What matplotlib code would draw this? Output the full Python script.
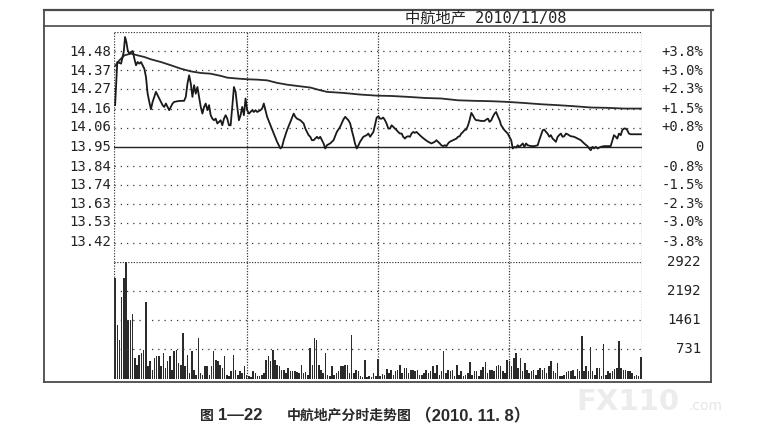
import matplotlib
matplotlib.use("Agg")
import matplotlib.pyplot as plt
import numpy as np
from matplotlib.lines import Line2D
from matplotlib.transforms import blended_transform_factory

# ---------------- data ----------------
title = "中航地产 2010/11/08"
caption_parts = ["图", "1—22", "中航地产分时走势图", "（2010. 11. 8）"]
prev_close = 13.95
price_ticks = [14.48, 14.37, 14.27, 14.16, 14.06, 13.95, 13.84, 13.74, 13.63, 13.53, 13.42]
pct_labels = ["+3.8%", "+3.0%", "+2.3%", "+1.5%", "+0.8%", "0",
              "-0.8%", "-1.5%", "-2.3%", "-3.0%", "-3.8%"]
vol_ticks = [731, 1461, 2192, 2922]

price_min = [0, 1, 2.73, 3.94, 4.55, 5.15, 5.76, 6.52, 7.27, 8.03, 8.79, 9.55, 10.3, 11.06, 11.82,
             12.58, 13.33, 14.09, 14.85, 15.61, 16.36, 17.12, 17.88, 18.64, 19.39, 20.15, 20.91,
             21.67, 22.42, 23.18, 23.94, 24.7, 25.45, 26.21, 26.97, 28.48, 30.0, 31.5, 32.27, 33.03,
             33.79, 34.55, 35.3, 36.06, 36.82, 37.58, 38.33, 39.09, 39.85, 40.61, 41.36, 42.12,
             42.88, 43.64, 44.39, 45.15, 45.91, 46.67, 47.42, 48.18, 48.94, 49.7, 50.45, 51.21,
             51.97, 52.73, 53.48, 54.24, 55.0, 55.76, 56.52, 57.27, 58.03, 58.79, 59.55, 60.3,
             61.06, 61.82, 62.58, 63.33, 64.09, 64.85, 66.36, 67.12, 67.88, 68.64, 69.39, 70.91,
             72.42, 73.94, 75.45, 76.21, 76.97, 78.48, 80.0, 81.52, 82.27, 83.03, 84.55, 85.3,
             86.06, 86.82, 87.58, 88.33, 89.09, 89.85, 90.61, 91.36, 92.12, 92.88, 93.64, 94.39,
             95.15, 95.91, 96.67, 98.18, 99.7, 101.2, 102.7, 104.2, 105.0, 105.8, 106.5, 107.3,
             108.0, 108.8, 109.5, 110.3, 111.1, 111.8, 113.3, 114.8, 115.6, 116.4, 117.9,
             119.4, 120.2, 120.9, 121.7, 122.4, 123.2, 123.9, 124.7, 125.5, 126.2, 127.0, 127.7,
             128.5, 129.2, 130.0, 130.8, 131.5, 132.3, 133.0, 133.8, 134.6, 135.3, 136.1, 136.8,
             137.6, 138.3, 139.1, 139.9, 141.4, 142.9, 144.4, 145.9, 146.7, 147.4, 148.2, 148.9,
             149.7, 150.5, 151.2, 152.0, 152.7, 154.2, 155.8, 156.5, 157.3, 158.0, 158.8, 159.5,
             160.3, 161.1, 161.8, 162.6, 163.3, 164.1, 164.8, 165.6, 167.1, 168.6, 169.4, 170.2,
             170.9, 171.7, 172.4, 173.2, 173.9, 174.7, 175.5, 176.2, 177.7, 179.2, 180.0, 180.8,
             181.5, 182.3, 183.0, 183.8, 184.5, 185.3, 186.1, 186.8, 187.6, 188.3, 189.9, 191.4,
             192.9, 193.6, 194.4, 195.2, 195.9, 196.7, 197.4, 198.2, 198.9, 199.7, 200.5, 201.2,
             202.0, 202.7, 203.5, 204.2, 205.0, 205.8, 206.5, 208.0, 209.5, 211.1, 212.6, 214.1,
             215.6, 216.4, 217.1, 217.9, 218.6, 219.4, 220.2, 221.7, 223.2, 226.2, 227.0, 227.7,
             228.5, 229.2, 230.0, 230.8, 231.5, 232.3, 233.0, 233.8, 234.5, 235.3, 238.3, 240.0]
price = [14.182, 14.422, 14.413, 14.478, 14.561, 14.533, 14.487, 14.469, 14.478, 14.483, 14.441,
         14.404, 14.422, 14.413, 14.422, 14.404, 14.385, 14.339, 14.246, 14.200, 14.159, 14.200,
         14.228, 14.256, 14.237, 14.219, 14.200, 14.182, 14.172, 14.191, 14.172, 14.154, 14.172,
         14.191, 14.200, 14.204, 14.206, 14.206, 14.228, 14.302, 14.348, 14.302, 14.228, 14.293,
         14.246, 14.283, 14.228, 14.172, 14.135, 14.172, 14.191, 14.154, 14.182, 14.126, 14.107,
         14.098, 14.107, 14.080, 14.089, 14.098, 14.070, 14.107, 14.126, 14.107, 14.070, 14.070,
         14.172, 14.283, 14.256, 14.172, 14.098, 14.126, 14.172, 14.126, 14.219, 14.154, 14.135,
         14.144, 14.154, 14.144, 14.154, 14.144, 14.154, 14.163, 14.191, 14.154, 14.117, 14.070,
         14.024, 13.978, 13.941, 13.950, 13.987, 14.043, 14.089, 14.135, 14.117, 14.107, 14.098,
         14.089, 14.080, 14.052, 14.033, 14.015, 14.006, 13.987, 13.987, 13.996, 14.006, 13.996,
         14.006, 13.987, 13.969, 13.941, 13.959, 13.969, 13.987, 14.033, 14.061, 14.102, 14.117,
         14.107, 14.098, 14.080, 14.043, 14.006, 13.969, 13.941, 13.959, 13.978, 14.006, 14.015,
         14.024, 14.006, 14.033,
         14.113, 14.120, 14.107, 14.107, 14.113, 14.098, 14.080, 14.052, 14.052, 14.070, 14.061,
         14.052, 14.043, 14.033, 14.024, 14.024, 14.006, 13.996, 14.006, 14.009, 14.006, 14.024,
         14.033, 14.028, 14.033, 14.024, 14.015, 14.006, 13.991, 13.978, 13.969, 13.978, 13.987,
         13.978, 13.969, 13.959, 13.954, 13.959, 13.954, 13.969, 13.978, 13.987, 13.996, 14.006,
         14.009, 14.024, 14.033, 14.043, 14.046, 14.070, 14.098, 14.139, 14.126, 14.107, 14.098,
         14.098, 14.094, 14.094, 14.102, 14.107, 14.089, 14.098, 14.117, 14.135, 14.144, 14.120,
         14.098, 14.070, 14.043, 14.024, 14.006, 13.987, 13.941, 13.950, 13.946, 13.959, 13.950,
         13.959, 13.969, 13.950, 13.969, 13.959, 13.954, 13.954, 13.959, 13.987, 14.015, 14.043,
         14.046, 14.033, 14.024, 14.006, 14.015, 13.996, 13.987, 13.978, 14.006, 14.015, 14.024,
         14.006, 14.009, 14.024, 14.020, 14.009, 14.006, 13.996, 13.987, 13.969, 13.954, 13.941,
         13.931, 13.950, 13.941, 13.950, 13.941, 13.950, 13.954, 13.954, 13.987, 14.015, 14.006,
         13.996, 14.024, 14.015, 14.043, 14.052, 14.052, 14.043, 14.024, 14.020, 14.020, 14.020]

avg_min = [0, 2, 4.24, 7.27, 10.3, 13.33, 16.36, 20.9, 25.45, 30.0, 34.55, 39.1, 43.6, 48.2, 51.2,
           55.8, 60.3, 64.8, 69.4, 73.9, 78.5, 83.0, 89.1, 93.6, 96.7, 104.2, 111.8, 119.4,
           126.2, 133.8, 141.4, 148.9, 156.5, 164.1, 171.7, 179.2, 186.8, 194.4, 202.0, 209.5,
           217.1, 224.7, 232.3, 240.0]
avg_price = [14.400, 14.432, 14.459, 14.469, 14.459, 14.450, 14.437, 14.422, 14.404, 14.385,
             14.370, 14.361, 14.357, 14.345, 14.335, 14.330, 14.326, 14.324, 14.320, 14.306,
             14.296, 14.289, 14.280, 14.265, 14.256, 14.250, 14.241, 14.235, 14.233, 14.228,
             14.222, 14.219, 14.209, 14.206, 14.204, 14.200, 14.194, 14.187, 14.182, 14.176,
             14.169, 14.167, 14.163, 14.163]

volume = [2507, 1345, 971, 2050, 2523, 2922, 1469, 1469, 1610, 515,
          349, 598, 639, 722, 1926, 307, 432, 224, 515, 556,
          556, 307, 639, 266, 432, 556, 224, 681, 722, 390,
          349, 1137, 307, 598, 141, 681, 224, 100,
          1013, 141, 100, 307, 307, 100, 307, 681, 473, 432,
          349, 266, 556, 100, 58, 183, 598, 224, 100,
          183, 141, 307, 83, 58, 33, 183, 141, 58,
          58, 100, 141, 473, 556, 432, 722, 473, 349, 307,
          224, 224, 141, 266, 183, 183, 183, 166, 141,
          349, 141, 166, 100, 764, 349, 1013, 955, 349,
          224, 141, 639, 100, 58, 307, 100, 141,
          183, 307, 307, 349, 349, 141, 1096, 141, 224, 183,
          58, 33, 473, 33, 58, 33, 141, 58,
          498, 58, 116, 83, 249, 141, 224, 100, 199, 224,
          349, 141, 266, 266, 141, 224, 224, 199, 224,
          83, 100, 141, 224, 141, 183, 307, 141, 332,
          100, 183, 681, 141, 224, 183, 224, 58, 349, 100,
          183, 58, 83, 141, 415, 100, 183, 183, 58,
          224, 282, 415, 141, 224, 224, 199, 307, 349,
          307, 183, 141, 473, 432, 307, 515, 639, 266, 515,
          183, 390, 224, 141, 183, 224, 100, 224, 266,
          224, 266, 141, 307, 432, 183, 141, 390, 58,
          58, 83, 166, 183, 183, 224, 58, 249, 183, 1071,
          183, 307, 199, 780, 183, 100, 266, 266, 58, 863,
          100, 183, 141, 183, 249, 266, 930, 266, 224, 224,
          199, 183, 141, 58, 83, 58, 531]

# ---------------- layout ----------------
W, H = 759, 446
fig = plt.figure(figsize=(W / 100, H / 100), dpi=100)
fig.patch.set_facecolor("white")

def fx(x):
    return x / W

def fy(y):
    return 1 - y / H

L, R = 114, 642
PT, PB = 32, 261.7
VB = 378.5

ax = fig.add_axes([fx(L), fy(PB), (R - L) / W, (PB - PT) / H])
axv = fig.add_axes([fx(L), fy(VB), (R - L) / W, (VB - PB) / H])

step = 0.1065
pmin, pmax = prev_close - 6 * step, prev_close + 6 * step
ax.set_xlim(-0.5, 240.5)
ax.set_ylim(pmin, pmax)
axv.set_xlim(-0.5, 240.5)
axv.set_ylim(0, 2922)

for a in (ax, axv):
    a.set_facecolor("none")
    for s in a.spines.values():
        s.set_visible(False)
    a.set_xticks([])
    a.set_yticks([])

gc = "#3a3a3a"
dot = (0, (1, 4))
dense = (0, (1, 1.2))

# price grid
for k in range(1, 6):
    for lvl in (prev_close + k * step, prev_close - k * step):
        ax.axhline(lvl, color=gc, lw=0.9, linestyle=dot)
ax.axhline(prev_close, color="#222222", lw=1.0)
ax.axhline(pmax, color=gc, lw=0.9, linestyle=dense)
for m in (60, 120, 180):
    ax.axvline(m, color=gc, lw=0.9, linestyle=dense)
    axv.axvline(m, color=gc, lw=0.9, linestyle=dense)
for a in (ax, axv):
    a.axvline(-0.5, color=gc, lw=0.9, linestyle=dense)
    a.axvline(240.5, color=gc, lw=0.9, linestyle=dense)

# volume grid
for v in vol_ticks[:-1]:
    axv.axhline(v, color=gc, lw=0.9, linestyle=dot)
axv.axhline(2922, color=gc, lw=0.9, linestyle=dense)

# series
ax.plot(avg_min, avg_price, color="#2a2a2a", lw=1.3, solid_joinstyle="round")
ax.plot(price_min, price, color="#1a1a1a", lw=1.3, solid_joinstyle="round")
axv.bar(np.arange(len(volume)), volume, width=0.7, color="#2b2b2b", linewidth=0)

# labels
tf = {"family": ["DejaVu Sans Mono"], "size": 10, "color": "#222222"}
trL = blended_transform_factory(ax.transAxes, ax.transData)
for v, lab in zip(price_ticks, pct_labels):
    ax.text(-0.006, v, f"{v:.2f}", transform=trL, ha="right", va="center", **tf)
    ax.text((703 - L) / (R - L), v, lab, transform=trL, ha="right", va="center", **tf)
trV = blended_transform_factory(axv.transAxes, axv.transData)
for v in vol_ticks:
    axv.text((701 - L) / (R - L), v, str(v), transform=trV, ha="right", va="center", **tf)

# outer frame
fc = "#4a4a4a"
def fline(xs, ys, lw=1.3, color=fc):
    fig.add_artist(Line2D([fx(x) for x in xs], [fy(y) for y in ys],
                          transform=fig.transFigure, color=color, lw=lw))
fline([44, 713], [10, 10], lw=1.6)
fline([44, 711], [26, 26], lw=1.2)
fline([44, 44], [10, 382], lw=1.3)
fline([711, 711], [10, 382], lw=1.3)
fline([44, 711], [382, 382], lw=1.3)

fig.text(fx(486), fy(18), title, ha="center", va="center",
         family=["DejaVu Sans Mono", "Noto Sans CJK SC"], size=11, color="#222222")

# watermark
fig.text(fx(628), fy(402), "FX110", ha="center", va="center", family=["DejaVu Sans"],
         size=21, weight="bold", color="#ececec")
fig.text(fx(688), fy(406), ".com", ha="left", va="center", family=["DejaVu Sans"],
         size=10, color="#e6e6e6")

# caption (pieces placed to match the reference spacing)
cap_fam = ["Liberation Sans", "Noto Sans CJK SC"]
cap_x = [200, 218, 287, 415]
cap_size = [10, 12, 10, 12]
for txt, xx, sz in zip(caption_parts, cap_x, cap_size):
    fig.text(fx(xx), fy(416), txt, ha="left", va="center", family=cap_fam,
             size=sz, weight="bold", color="#2a2a2a")

fig.savefig("out.png", dpi=100, facecolor="white")
